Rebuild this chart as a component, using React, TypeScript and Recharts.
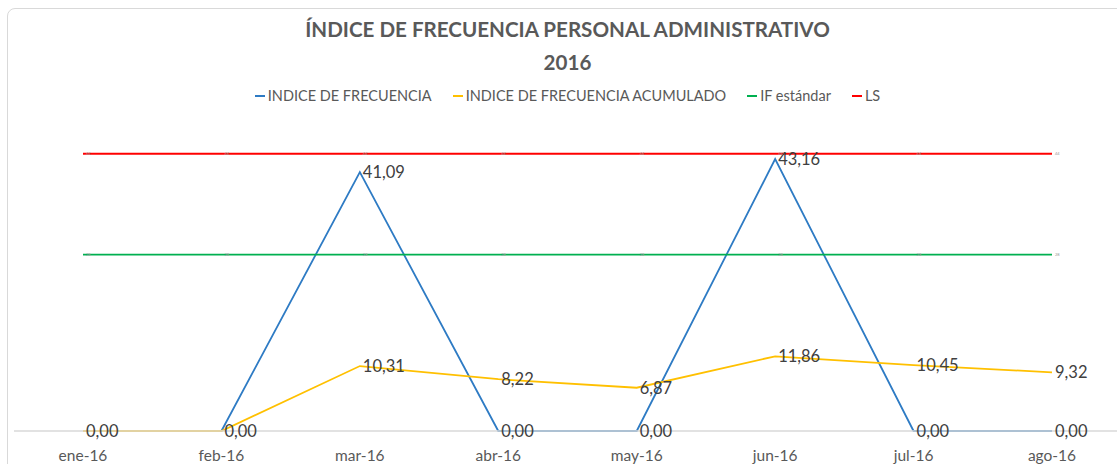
import React from "react";
import { LineChart, Line, XAxis, YAxis, LabelList } from "recharts";

const months = ["ene-16", "feb-16", "mar-16", "abr-16", "may-16", "jun-16", "jul-16", "ago-16"];
const indiceFrecuencia = [0, 0, 41.09, 0, 0, 43.16, 0, 0];
const indiceAcumulado = [0, 0, 10.31, 8.22, 6.87, 11.86, 10.45, 9.32];
const ifEstandar = [28, 28, 28, 28, 28, 28, 28, 28];
const ls = [44, 44, 44, 44, 44, 44, 44, 44];

const seriesDefs = [
  { key: "if", name: "INDICE DE FRECUENCIA", color: "#2E7BC4" },
  { key: "acum", name: "INDICE DE FRECUENCIA ACUMULADO", color: "#FFC000" },
  { key: "std", name: "IF estándar", color: "#00B050" },
  { key: "ls", name: "LS", color: "#FF0000" },
];

const data = months.map((m, i) => ({
  month: m,
  if: indiceFrecuencia[i],
  acum: indiceAcumulado[i],
  std: ifEstandar[i],
  ls: ls[i],
}));

const FONT = "Lato, 'DejaVu Sans', sans-serif";
const fmt = (v: any) => Number(v).toFixed(2).replace(".", ",");

// blue labels at points where the accumulated series shows the same value are drawn once
const BlueLabel = (props: any) => {
  const { x, y, value, index } = props;
  if (indiceAcumulado[index] === value) return null;
  return (
    <text x={x + 3} y={y} dy="0.35em" fill="#404040" fontSize={16.5} fontFamily={FONT} textAnchor="start">
      {fmt(value)}
    </text>
  );
};

export default function App() {
  return (
    <div style={{ position: "absolute", left: 0, top: 0, width: 1117, height: 464, overflow: "hidden", background: "#fff", fontFamily: FONT }}>
      <div style={{ position: "absolute", left: 7, top: 8, width: 1200, height: 600, border: "1px solid #d9d9d9", borderRadius: 8 }} />
      <div style={{ position: "absolute", left: 0, width: 1135, top: 13, textAlign: "center", color: "#595959", fontWeight: 700, fontSize: 20.6, lineHeight: "33px" }}>
        <div>ÍNDICE DE FRECUENCIA PERSONAL ADMINISTRATIVO</div>
        <div>2016</div>
      </div>
      <div style={{ position: "absolute", left: 0, width: 1135, top: 86, display: "flex", justifyContent: "center", color: "#595959", fontSize: 14.5, lineHeight: "20px" }}>
        {seriesDefs.map((s, i) => (
          <div key={s.key} style={{ display: "flex", alignItems: "center", marginRight: i === seriesDefs.length - 1 ? 0 : 21 }}>
            <span style={{ display: "inline-block", width: 10, height: 2, background: s.color, marginRight: 3 }} />
            <span>{s.name}</span>
          </div>
        ))}
      </div>
      <div style={{ position: "absolute", left: 0, top: 0 }}>
        <LineChart width={1135} height={464} data={data} margin={{ top: 116, right: 14, bottom: 0, left: 14 }}>
          <XAxis
            dataKey="month"
            height={33}
            padding={{ left: 69, right: 69 }}
            axisLine={{ stroke: "#d9d9d9", strokeWidth: 1.5 }}
            tickLine={false}
            tickMargin={13}
            interval={0}
            tick={{ fill: "#595959", fontSize: 15.5, fontFamily: FONT }}
          />
          <YAxis hide domain={[0, 50]} />
          <Line dataKey="if" stroke="#2E7BC4" strokeWidth={1.8} dot={false} isAnimationActive={false}>
            <LabelList dataKey="if" content={BlueLabel} />
          </Line>
          <Line dataKey="acum" stroke="#FFC000" strokeWidth={1.8} dot={false} isAnimationActive={false}>
            <LabelList dataKey="acum" position="right" offset={3} formatter={fmt} style={{ fill: "#404040", fontSize: 16.5, fontFamily: FONT }} />
          </Line>
          <Line dataKey="std" stroke="#00B050" strokeWidth={1.8} dot={false} isAnimationActive={false}>
            <LabelList dataKey="std" position="right" offset={3} style={{ fill: "#999", fontSize: 4, fontFamily: FONT }} />
          </Line>
          <Line dataKey="ls" stroke="#FF0000" strokeWidth={2} dot={false} isAnimationActive={false}>
            <LabelList dataKey="ls" position="right" offset={3} style={{ fill: "#999", fontSize: 4, fontFamily: FONT }} />
          </Line>
        </LineChart>
      </div>
    </div>
  );
}
